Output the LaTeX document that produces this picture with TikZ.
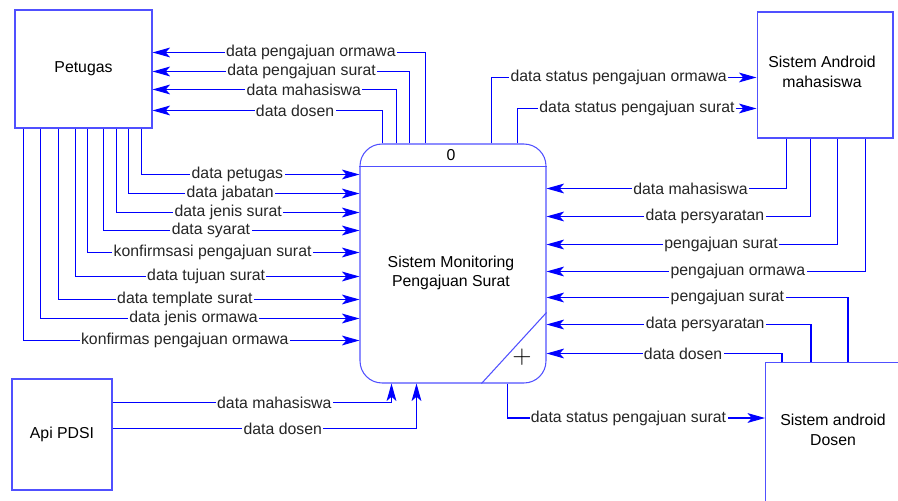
\documentclass[tikz,border=0pt]{standalone}
\usepackage{fontspec}
\setmainfont{Liberation Sans}
\usetikzlibrary{arrows.meta,calc}
\definecolor{boxblue}{RGB}{80,80,255}
\tikzset{ %all sizes in pixels of the sheet
  >={Stealth[length=10pt,width=5.6pt,inset=2.5pt]},
  {entity/.style} ={draw=boxblue,line width=0.6pt,fill=white,
                    inner sep=0,align=center},
  {process/.style} ={entity,rounded corners=0.44cm},
  {flow/.style} ={draw=blue,line width=0.6pt,->},
  {lbl/.style} ={fill=white,inner sep=0.8pt,text=black!85},
  {rule/.style} ={draw=boxblue,line width=0.6pt},
}

\begin{document}
\begin{tikzpicture}[x=0.02cm,y=-0.02cm,font=\fontsize{9}{11}\selectfont]
\useasboundingbox (0,0) rectangle (898,500);
\clip (0,0) rectangle (898,500);
% terminators
\node[entity,minimum width=2.74cm,minimum height=2.36cm] (pet) at (83.5,69) {Petugas};
\node[entity,minimum width=2cm,minimum height=2.22cm] (api) at (62,434.5) {Api PDSI};
\node[entity,minimum width=2.72cm,minimum height=2.52cm] (andm) at (825,75) {};
\node[align=center] (andmtxt) at (822,72) {Sistem Android\\mahasiswa};
\node[entity,minimum width=2.8cm,minimum height=3.4cm,anchor=north west] (andd) at (765,362) {};
\node[align=center] (anddtxt) at (833,430) {Sistem android\\Dosen};
% process
\node[process,minimum width=3.72cm,minimum height=4.78cm] (proc) at (453,263.5) {};
\draw[rule] ($(proc.north west)+(0,23)$) -- ($(proc.north east)+(0,23)$);
\draw[rule] ($(proc.south west)+(122,0)$) -- ($(proc.south east)+(0,-71)$);
\node (pnum) at (451,155) {0};
\node (pplus) at (522,357) {\fontsize{14}{14}\selectfont$+$};
\node[align=center] (ptxt) at (451,273) {Sistem Monitoring\\Pengajuan Surat};
% process -> petugas
\draw[flow] ($(proc.north west)+(66,0)$) |- node[lbl,pos=.71] {data pengajuan ormawa} ($(pet.north east)+(0,43)$);
\draw[flow] ($(proc.north west)+(50,0)$) |- node[lbl,pos=.71] {data pengajuan surat} ($(pet.north east)+(0,62)$);
\draw[flow] ($(proc.north west)+(37,0)$) |- node[lbl,pos=.69] {data mahasiswa} ($(pet.north east)+(0,80)$);
\draw[flow] ($(proc.north west)+(23,0)$) |- node[lbl,pos=.69] {data dosen} ($(pet.north east)+(0,101)$);
% petugas -> process
\draw[flow] ($(pet.south west)+(127,0)$) |- node[lbl,pos=.72] {data petugas} ($(proc.north west)+(0,31)$);
\draw[flow] ($(pet.south west)+(114,0)$) |- node[lbl,pos=.72] {data jabatan} ($(proc.north west)+(0,50)$);
\draw[flow] ($(pet.south west)+(102,0)$) |- node[lbl,pos=.73] {data jenis surat} ($(proc.north west)+(0,69)$);
\draw[flow] ($(pet.south west)+(89,0)$) |- node[lbl,pos=.71] {data syarat} ($(proc.north west)+(0,87)$);
\draw[flow] ($(pet.south west)+(73,0)$) |- node[lbl,pos=.73] {konfirmsasi pengajuan surat} ($(proc.north west)+(0,109)$);
\draw[flow] ($(pet.south west)+(61,0)$) |- node[lbl,pos=.73] {data tujuan surat} ($(proc.north west)+(0,133)$);
\draw[flow] ($(pet.south west)+(44,0)$) |- node[lbl,pos=.71] {data template surat} ($(proc.north west)+(0,156)$);
\draw[flow] ($(pet.south west)+(26,0)$) |- node[lbl,pos=.74] {data jenis ormawa} ($(proc.north west)+(0,175)$);
\draw[flow] ($(pet.south west)+(9,0)$) |- node[lbl,pos=.74] {konfirmas pengajuan ormawa} ($(proc.north west)+(0,197)$);
% api -> process
\draw[flow] ($(api.north east)+(0,24)$) -| node[lbl,pos=.29] {data mahasiswa} ($(proc.south west)+(32,0)$);
\draw[flow] ($(api.north east)+(0,50)$) -| node[lbl,pos=.28] {data dosen} ($(proc.south west)+(57,0)$);
% process -> android mahasiswa
\draw[flow] ($(proc.north west)+(132,0)$) |- node[lbl,pos=.74] {data status pengajuan ormawa} ($(andm.north west)+(0,66)$);
\draw[flow] ($(proc.north west)+(158,0)$) |- node[lbl,pos=.75] {data status pengajuan surat} ($(andm.north west)+(0,97)$);
% android mahasiswa -> process
\draw[flow] ($(andm.south west)+(30,0)$) |- node[lbl,pos=.70] {data mahasiswa} ($(proc.north east)+(0,45)$);
\draw[flow] ($(andm.south west)+(54,0)$) |- node[lbl,pos=.70] {data persyaratan} ($(proc.north east)+(0,73)$);
\draw[flow] ($(andm.south west)+(81,0)$) |- node[lbl,pos=.70] {pengajuan surat} ($(proc.north east)+(0,101)$);
\draw[flow] ($(andm.south west)+(109,0)$) |- node[lbl,pos=.70] {pengajuan ormawa} ($(proc.north east)+(0,128)$);
% android dosen -> process
\draw[flow] ($(andd.north west)+(83,0)$) |- node[lbl,pos=.70] {pengajuan surat} ($(proc.north east)+(0,154)$);
\draw[flow] ($(andd.north west)+(46,0)$) |- node[lbl,pos=.70] {data persyaratan} ($(proc.north east)+(0,181)$);
\draw[flow] ($(andd.north west)+(17,0)$) |- node[lbl,pos=.71] {data dosen} ($(proc.north east)+(0,210)$);
% process -> android dosen
\draw[flow] ($(proc.south west)+(148,0)$) |- node[lbl,pos=.735] {data status pengajuan surat} ($(andd.north west)+(0,56)$);
\end{tikzpicture}
\end{document}
